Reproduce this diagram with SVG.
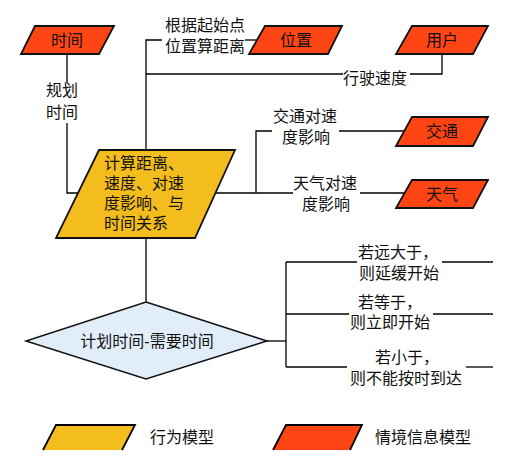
<svg xmlns="http://www.w3.org/2000/svg" width="511" height="458" viewBox="0 0 511 458">
<style>
text{font-family:"Liberation Sans","Noto Sans CJK SC",sans-serif;font-size:16px;fill:#111;dominant-baseline:central}
.c{text-anchor:middle}
.ctx{fill:#FF4514;stroke:#111;stroke-width:1.8}
.beh{fill:#F4BD1E;stroke:#111;stroke-width:1.8}
.dec{fill:#E1EEFA;stroke:#111;stroke-width:1.5}
.ln{fill:none;stroke:#000;stroke-width:1.3}
</style>
<rect width="511" height="458" fill="#fff"/>
<g id="connectors">
<polyline class="ln" points="67,54 67,83"/>
<polyline class="ln" points="67,123 67,193 78,193"/>
<polyline class="ln" points="257,40 245,40"/>
<polyline class="ln" points="162,40 146,40 146,150"/>
<polyline class="ln" points="442,54 442,74 410,74"/>
<polyline class="ln" points="343,74 146,74"/>
<polyline class="ln" points="404,131 339,131"/>
<polyline class="ln" points="272,131 256,131 256,193"/>
<polyline class="ln" points="404,193 360,193"/>
<polyline class="ln" points="293,193 216,193"/>
<polyline class="ln" points="146,238 146,302"/>
<polyline class="ln" points="267,341 286,341"/>
<polyline class="ln" points="286,262 286,367"/>
<polyline class="ln" points="286,262 357,262"/>
<polyline class="ln" points="442,262 493,262"/>
<polyline class="ln" points="286,314 349,314"/>
<polyline class="ln" points="433,314 493,314"/>
<polyline class="ln" points="286,367 347,367"/>
<polyline class="ln" points="466,367 493,367"/>
<text><tspan x="46" y="90">规划</tspan><tspan x="46" y="112">时间</tspan></text>
<text><tspan x="165" y="25">根据起始点</tspan><tspan x="165" y="46">位置算距离</tspan></text>
<text x="343" y="78">行驶速度</text>
<text><tspan x="273" y="116">交通对速</tspan><tspan x="282" y="137">度影响</tspan></text>
<text><tspan x="293" y="183">天气对速</tspan><tspan x="302" y="204">度影响</tspan></text>
<text><tspan x="358" y="252">若远大于，</tspan><tspan x="359" y="273">则延缓开始</tspan></text>
<text><tspan x="358" y="302">若等于，</tspan><tspan x="350" y="322">则立即开始</tspan></text>
<text><tspan x="375" y="357">若小于，</tspan><tspan x="350" y="378">则不能按时到达</tspan></text>
</g>
<g id="node-time">
<polygon class="ctx" points="35,26 114,26 99,54 21,54"/>
<text class="c" x="67" y="40">时间</text>
</g>
<g id="node-position">
<polygon class="ctx" points="265,26 342,26 328,54 249,54"/>
<text class="c" x="296" y="40">位置</text>
</g>
<g id="node-user">
<polygon class="ctx" points="412,26 488,26 473,54 396,54"/>
<text class="c" x="442" y="40">用户</text>
</g>
<g id="node-traffic">
<polygon class="ctx" points="412,117 488,117 473,146 396,146"/>
<text class="c" x="442" y="131">交通</text>
</g>
<g id="node-weather">
<polygon class="ctx" points="412,180 488,180 473,208 396,208"/>
<text class="c" x="442" y="194">天气</text>
</g>
<g id="node-compute">
<polygon class="beh" points="99,150 235,150 195,238 56,238"/>
<text><tspan x="104" y="163">计算距离、</tspan><tspan x="104" y="183">速度、对速</tspan><tspan x="104" y="203">度影响、与</tspan><tspan x="104" y="223">时间关系</tspan></text>
</g>
<g id="node-decision">
<polygon class="dec" points="146,302 267,341 146,379 26,341"/>
<text class="c" x="147" y="341">计划时间-需要时间</text>
</g>
<g id="legend-behavior">
<polygon points="56,425 135,425 122,450 43,450" fill="#F4BD1E"/>
<polyline class="ln" style="stroke-width:1.8" points="43,450 56,425 135,425 122,450"/>
<text x="150" y="437">行为模型</text>
</g>
<g id="legend-context">
<polygon points="286,425 362,425 350,450 273,450" fill="#FF4514"/>
<polyline class="ln" style="stroke-width:1.8" points="273,450 286,425 362,425 350,450"/>
<text x="375" y="437">情境信息模型</text>
</g>
</svg>
